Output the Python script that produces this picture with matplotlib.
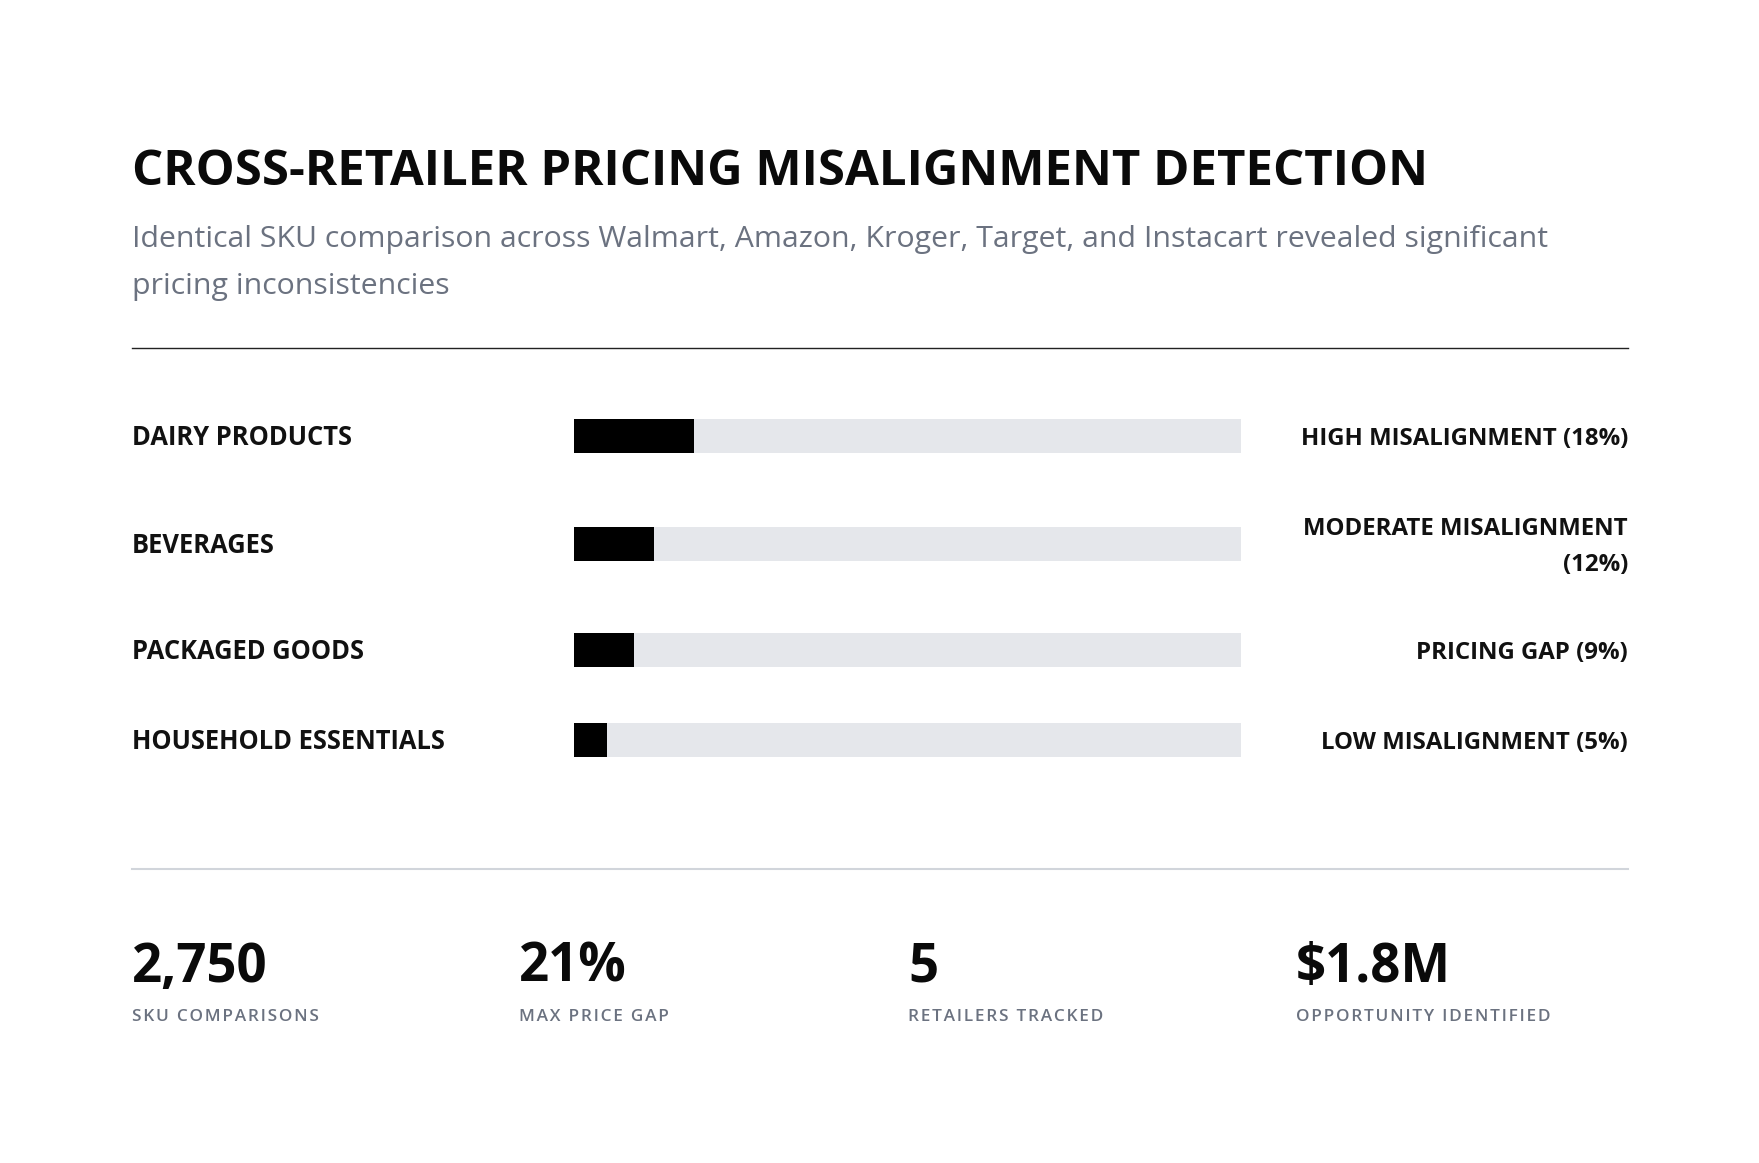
import matplotlib.pyplot as plt

plt.rcParams['font.family'] = ['Open Sans', 'DejaVu Sans']

W, H = 1759, 1163

title = 'CROSS-RETAILER PRICING MISALIGNMENT DETECTION'
subtitle = ['Identical SKU comparison across Walmart, Amazon, Kroger, Target, and Instacart revealed significant',
            'pricing inconsistencies']

categories = ['DAIRY PRODUCTS', 'BEVERAGES', 'PACKAGED GOODS', 'HOUSEHOLD ESSENTIALS']
misalignment = [18, 12, 9, 5]
status = [['HIGH MISALIGNMENT (18%)'],
          ['MODERATE MISALIGNMENT', '(12%)'],
          ['PRICING GAP (9%)'],
          ['LOW MISALIGNMENT (5%)']]

stat_values = ['2,750', '21%', '5', '$1.8M']
stat_labels = ['SKU COMPARISONS', 'MAX PRICE GAP', 'RETAILERS TRACKED', 'OPPORTUNITY IDENTIFIED']

# layout (pixels)
left, right = 132, 1628
row_y = [436, 544, 650, 740]
bar_x0, bar_x1 = 574, 1241
bar_h = 34
stat_x = [132, 519, 908, 1296]

fig = plt.figure(figsize=(W / 100, H / 100), dpi=100)
fig.patch.set_facecolor('white')
ax = fig.add_axes([0, 0, 1, 1])
ax.set_xlim(0, W)
ax.set_ylim(H, 0)
ax.axis('off')

# header
ax.text(left, 185, title, fontsize=35.4, fontweight='bold', color='#0a0a0a', va='baseline')
ax.text(left, 247, subtitle[0], fontsize=21.8, color='#6b7280', va='baseline')
ax.text(left, 294, subtitle[1], fontsize=21.8, color='#6b7280', va='baseline')
ax.plot([left, right], [348, 348], color='#222222', lw=1.0)

# bars
bax = fig.add_axes([bar_x0 / W, 0, (bar_x1 - bar_x0) / W, 1])
bax.set_xlim(0, 100)
bax.set_ylim(H, 0)
bax.axis('off')
bax.patch.set_alpha(0)
bax.barh(row_y, [100] * len(row_y), height=bar_h, color='#e5e7eb', left=0)
bax.barh(row_y, misalignment, height=bar_h, color='#000000', left=0)

for y, cat, lines in zip(row_y, categories, status):
    ax.text(left, y + 9, cat, fontsize=18.4, fontweight='bold', color='#111111', va='baseline')
    if len(lines) == 1:
        ax.text(right, y + 9, lines[0], fontsize=17.3, fontweight='bold', color='#111111',
                va='baseline', ha='right')
    else:
        ax.text(right, y - 9, lines[0], fontsize=17.3, fontweight='bold', color='#111111',
                va='baseline', ha='right')
        ax.text(right, y + 27, lines[1], fontsize=17.3, fontweight='bold', color='#111111',
                va='baseline', ha='right')

ax.plot([left, right], [869, 869], color='#d1d5db', lw=1.5)

# stats
for x, v, lab in zip(stat_x, stat_values, stat_labels):
    ax.text(x, 982, v, fontsize=38, fontweight='bold', color='#0a0a0a', va='baseline')
    ax.text(x, 1021, '\u200a'.join(lab), fontsize=12.4, fontweight='semibold',
            color='#6b7280', va='baseline')

fig.savefig('out.png', dpi=100, facecolor='white')
